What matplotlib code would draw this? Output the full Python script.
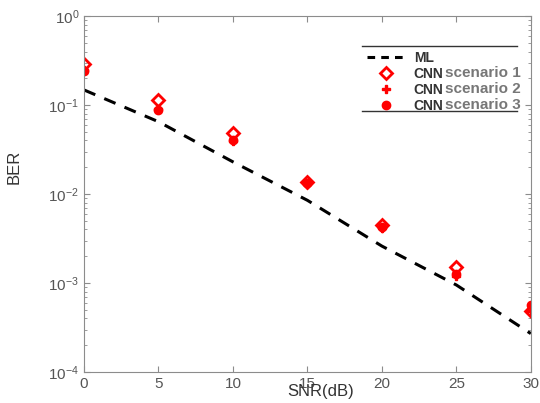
import numpy as np
import matplotlib.pyplot as plt
from matplotlib.lines import Line2D

plt.rcParams['font.family'] = ['Liberation Sans', 'DejaVu Sans']

snr = [0, 5, 10, 15, 20, 25, 30]
ber_ml = [0.148, 0.065, 0.023, 0.0085, 0.0026, 0.00095, 0.00027]
ber_cnn1 = [0.29, 0.114, 0.049, 0.0136, 0.0045, 0.0015, 0.00048]
ber_cnn2 = [0.25, 0.090, 0.039, 0.0130, 0.0042, 0.0012, 0.00048]
ber_cnn3 = [0.24, 0.088, 0.040, 0.0133, 0.0043, 0.00125, 0.00057]
labels = ['ML', 'CNN', 'CNN', 'CNN']
scen = ['scenario 1', 'scenario 2', 'scenario 3']

gray = '#8c8c8c'
fig = plt.figure(figsize=(5.4, 4.03), dpi=100)
ax = fig.add_axes([0.1556, 0.077, 0.8274, 0.883])

ax.semilogy(snr, ber_ml, 'k--', lw=2.2, dashes=(4, 3.2))
ax.semilogy(snr, ber_cnn1, 'D', color='red', mfc='none', mew=2, ms=6.5, ls='none')
ax.semilogy(snr, ber_cnn2, 'P', color='red', ms=6, ls='none')
ax.semilogy(snr, ber_cnn3, 'o', color='red', ms=6, ls='none')

ax.set_xlim(0, 30)
ax.set_ylim(1e-4, 1)
ax.set_xticks(snr)
for s in ax.spines.values():
    s.set_color(gray)
ax.tick_params(which='both', direction='in', colors=gray, top=True, right=True,
               labelsize=11, labelcolor='#555555')
ax.tick_params(which='major', length=4)
ax.tick_params(which='minor', length=2.5)

ax.set_xlabel('SNR(dB)', fontsize=12, color='#333333')
ax.xaxis.set_label_coords(0.53, -0.035)
ax.set_ylabel('BER', fontsize=12, color='#333333')
ax.yaxis.set_label_coords(-0.14, 0.575)

# legend
handles = [Line2D([], [], color='k', ls='--', lw=2.2, dashes=(2.5, 2)),
           Line2D([], [], marker='D', color='red', mfc='white', mew=2, ms=6, ls='none'),
           Line2D([], [], marker='P', color='red', ms=6, ls='none'),
           Line2D([], [], marker='o', color='red', ms=6, ls='none')]
leg = ax.legend(handles, labels, loc='upper left', bbox_to_anchor=(0.62, 0.918),
                frameon=False, prop={'size': 10, 'weight': 'bold'}, handlelength=2.8,
                labelspacing=0.15, borderaxespad=0, handletextpad=0.6)
for t in leg.get_texts():
    t.set_color('#333333')
fig.canvas.draw()
for t, s in zip(leg.get_texts()[1:], scen):
    bb = t.get_window_extent().transformed(ax.transAxes.inverted())
    ax.text(bb.x1 + 0.004, bb.y0 + 0.012, s, transform=ax.transAxes, fontsize=11,
            color='#777777', fontweight='bold', clip_on=True)
ax.plot([0.623, 0.97], [0.916, 0.916], color='#333333', lw=1, transform=ax.transAxes)
ax.plot([0.623, 0.97], [0.733, 0.733], color='#333333', lw=1, transform=ax.transAxes)

fig.savefig('out.png', dpi=100)
